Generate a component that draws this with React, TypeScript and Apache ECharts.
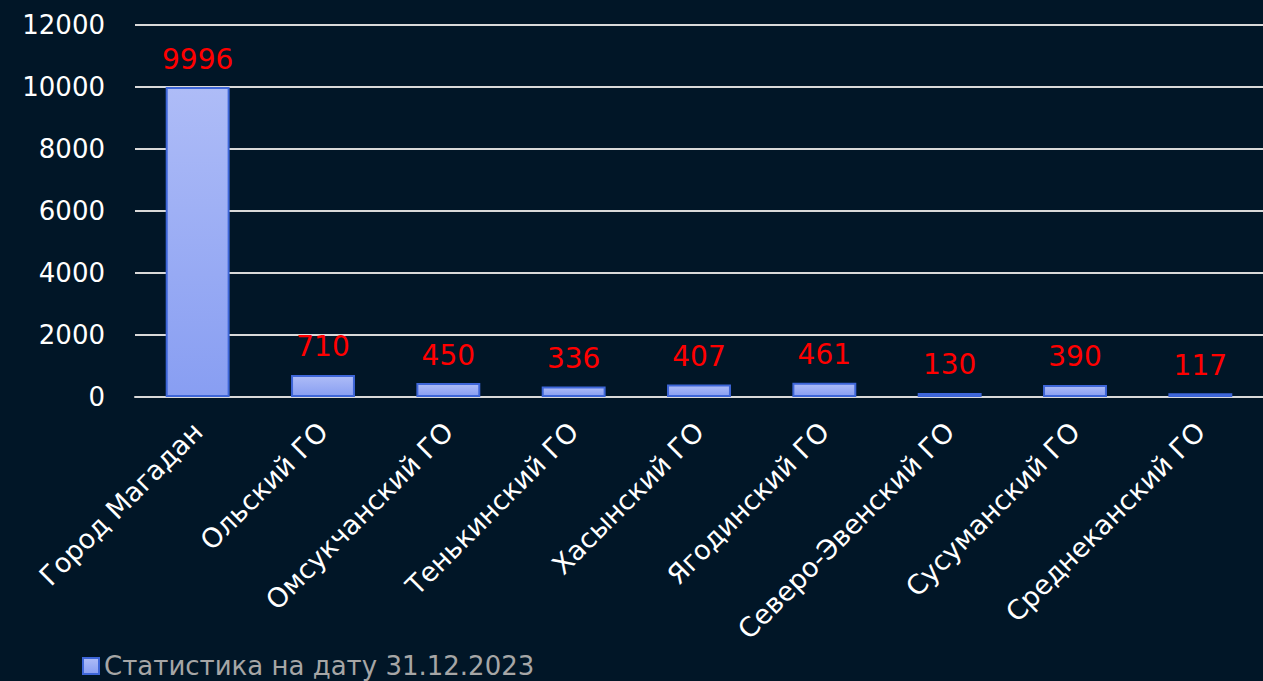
import React, { useEffect, useRef } from "react";
import * as echarts from "echarts";

const categories = [
  "Город Магадан",
  "Ольский ГО",
  "Омсукчанский ГО",
  "Тенькинский ГО",
  "Хасынский ГО",
  "Ягодинский ГО",
  "Северо-Эвенский ГО",
  "Сусуманский ГО",
  "Среднеканский ГО",
];
const values = [9996, 710, 450, 336, 407, 461, 130, 390, 117];
const seriesName = "Статистика на дату 31.12.2023";
const yTicks = { min: 0, max: 12000, interval: 2000 };

const FONT = "'DejaVu Sans', 'Noto Sans', sans-serif";

export default function App() {
  const ref = useRef<HTMLDivElement>(null);
  useEffect(() => {
    document.body.style.margin = "0";
    document.body.style.background = "#011627";
    if (!ref.current) return;
    const chart = echarts.init(ref.current, null, { renderer: "svg" });
    chart.setOption({
      animation: false,
      backgroundColor: "#011627",
      textStyle: { fontFamily: FONT },
      grid: { left: 135, right: 0, top: 25, bottom: 284, containLabel: false },
      legend: {
        left: 77,
        top: 648,
        itemWidth: 16,
        itemHeight: 16,
        itemGap: 10,
        icon: "rect",
        textStyle: { color: "#a6a6a6", fontSize: 26, fontFamily: FONT },
        data: [seriesName],
      },
      xAxis: {
        type: "category",
        data: categories,
        axisLine: { show: true, lineStyle: { color: "#d9d9d9", width: 2 } },
        axisTick: { show: false },
        axisLabel: {
          color: "#ffffff",
          fontSize: 27,
          rotate: 45,
          interval: 0,
          margin: 30,
          fontFamily: FONT,
        },
      },
      yAxis: {
        type: "value",
        min: yTicks.min,
        max: yTicks.max,
        interval: yTicks.interval,
        axisLine: { show: false },
        axisTick: { show: false },
        axisLabel: {
          color: "#ffffff",
          fontSize: 26,
          margin: 30,
          fontFamily: FONT,
          formatter: (v: number) => String(v),
        },
        splitLine: { lineStyle: { color: "#d9d9d9", width: 2 } },
      },
      series: [
        {
          name: seriesName,
          type: "bar",
          data: values,
          barWidth: "51%",
          itemStyle: {
            color: new echarts.graphic.LinearGradient(0, 0, 0, 1, [
              { offset: 0, color: "#aebcf7" },
              { offset: 1, color: "#889ef2" },
            ]),
            borderColor: "#3e66d8",
            borderWidth: 2,
          },
          label: {
            show: true,
            position: "top",
            distance: 14,
            color: "#ff0000",
            fontSize: 28,
            fontFamily: FONT,
          },
        },
      ],
    });
    return () => chart.dispose();
  }, []);
  return <div ref={ref} style={{ width: 1263, height: 681 }} />;
}
